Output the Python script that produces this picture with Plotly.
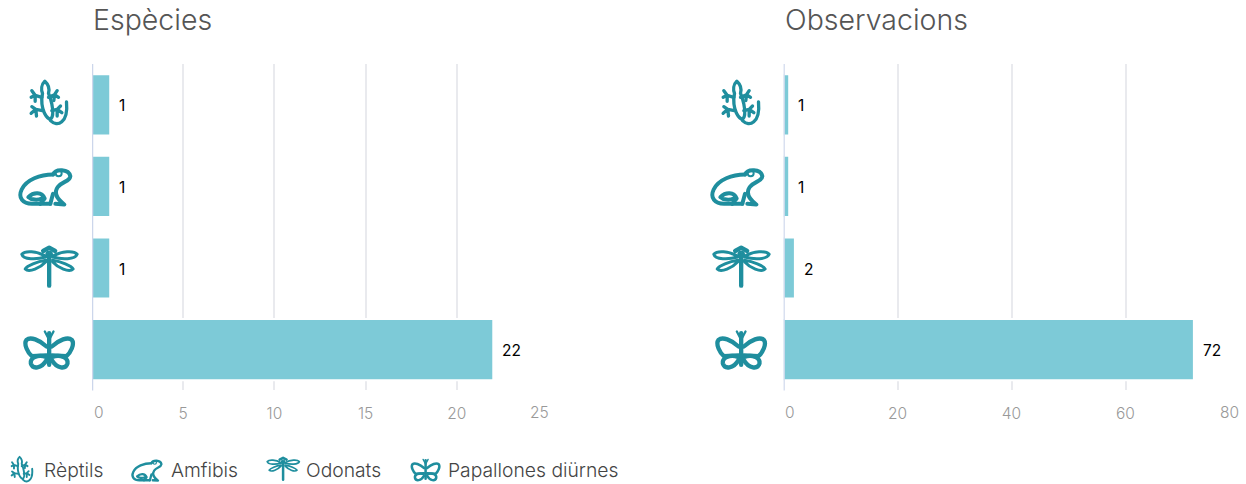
import base64
import plotly.graph_objects as go

# ---- data ----
categories = ["Rèptils", "Amfibis", "Odonats", "Papallones diürnes"]
especies = [1, 1, 1, 22]
observacions = [1, 1, 2, 72]
ticks_esp = [0, 5, 10, 15, 20, 25]
ticks_obs = [0, 20, 40, 60, 80]

BAR = "#7dcad7"
TEAL = "#1f8e9e"
W, H = 1246, 484
FONT = "Inter"


def svg(viewbox, body, sw):
    s = (f'<svg xmlns="http://www.w3.org/2000/svg" viewBox="{viewbox}" '
         f'width="{viewbox.split()[2]}" height="{viewbox.split()[3]}">'
         f'<g fill="none" stroke="{TEAL}" stroke-width="{sw}" stroke-linecap="round" '
         f'stroke-linejoin="round">{body}</g></svg>')
    return "data:image/svg+xml;base64," + base64.b64encode(s.encode()).decode()


# icon outlines, in 3x pixel units
ICONS = {
    "Rèptils": (svg("80 50 135 160",
        '<path d="M135,62 C124,72 124,88 128,98 C124,118 126,140 134,158 C140,170 148,176 152,176 '
        'C160,170 160,150 156,130 C152,112 148,104 146,98 C150,84 146,72 135,62 Z"/>'
        '<path d="M126,110 L106,104 M96,90 L106,104 L94,110 M106,104 L106,122"/>'
        '<path d="M146,110 L164,102 M172,90 L164,102 L176,110 M164,102 L162,120"/>'
        '<path d="M128,150 L108,146 M96,138 L108,146 L94,158 M108,146 L110,166"/>'
        '<path d="M156,150 L172,146 M182,136 L172,146 L186,156 M172,146 L172,166"/>'
        '<path d="M152,180 C172,200 206,188 200,124"/>', 10), 135, 160),
    "Amfibis": (svg("45 315 175 125",
        '<path d="M158,340 C120,340 78,355 64,385 C52,410 68,428 95,428 L150,428"/>'
        '<path d="M158,340 C165,322 205,322 210,345 C208,362 185,360 172,378 C160,395 168,412 192,430 L165,428"/>'
        '<circle cx="175" cy="336" r="9" stroke-width="6"/>'
        '<path d="M84,408 C100,392 125,392 133,412 L120,428 M84,408 C92,416 112,418 124,412"/>'
        '<path d="M150,428 L158,398"/>', 12), 175, 125),
    "Odonats": (svg("55 40 185 140",
        '<path d="M148,72 L148,166" stroke-width="13"/>'
        '<circle cx="148" cy="72" r="8" stroke-width="7"/>'
        '<path d="M130,62 L148,52 L166,62" stroke-width="13"/>'
        '<path d="M138,78 C110,62 76,60 66,72 C70,88 110,88 138,80"/>'
        '<path d="M158,78 C186,62 222,60 232,72 C226,88 186,88 158,80"/>'
        '<path d="M138,90 C112,94 82,106 76,116 C88,128 122,112 138,94"/>'
        '<path d="M158,90 C184,94 214,106 220,116 C208,128 174,112 158,94"/>', 9), 185, 140),
    "Papallones diürnes": (svg("60 285 175 135",
        '<path d="M148,305 L148,400" stroke-width="13"/>'
        '<path d="M135,300 L148,325 L161,300" stroke-width="7"/>'
        '<path d="M140,345 C118,325 92,315 80,325 C70,338 85,365 96,374 L140,372"/>'
        '<path d="M156,345 C178,325 204,315 216,325 C226,338 211,365 200,374 L156,372"/>'
        '<path d="M138,376 C112,368 90,380 93,396 C98,414 125,412 140,386"/>'
        '<path d="M158,376 C184,368 206,380 203,396 C198,414 171,412 156,386"/>', 13), 175, 135),
}

fig = go.Figure()

LEFT = (92, 548)
RIGHT = (783.5, 1239.5)
TOP, BOTTOM = 64, 390.4
TICK_FONT = dict(family=FONT, size=15.5, color="#999999", weight=300)
shapes = []


def add_panel(values, ticks, box, xname, yname, axis_no):
    fig.add_trace(go.Bar(
        y=categories, x=values, orientation="h", xaxis=xname, yaxis=yname,
        marker=dict(color=BAR, line=dict(color="white", width=2)),
        hoverinfo="y+x", showlegend=False, cliponaxis=False,
    ))
    suffix = "" if axis_no == 1 else str(axis_no)
    fig.layout["xaxis" + suffix] = dict(
        domain=[box[0] / W, box[1] / W], range=[ticks[0], ticks[-1]], anchor=yname,
        tickmode="array", tickvals=ticks,
        ticktext=[""] + [str(t) for t in ticks[1:-1]] + [""],
        ticks="outside", ticklen=9, tickcolor="rgba(0,0,0,0)",
        tickfont=TICK_FONT,
        showgrid=True, gridcolor="#e9eaee", gridwidth=1.5, zeroline=False, showline=False,
    )
    fig.layout["yaxis" + suffix] = dict(
        domain=[1 - BOTTOM / H, 1 - TOP / H], anchor=xname, type="category",
        categoryorder="array", categoryarray=categories, autorange="reversed",
        showticklabels=False, ticks="", showgrid=False, zeroline=False, showline=False,
    )
    # category axis line, half a pixel to the right of the zero position
    shapes.append(dict(type="line", layer="above", xref=xname, xsizemode="pixel", xanchor=0,
                       x0=0.5, x1=0.5, yref=yname + " domain", y0=0, y1=1,
                       line=dict(color="#ccd6eb", width=1.5)))
    ann = []
    # end tick labels sit inside the plot edges
    for t, shift in ((ticks[0], 6.5), (ticks[-1], -9 if ticks[-1] < 50 else -10.5)):
        ann.append(dict(x=t, y=1 - 412 / H, xref=xname, yref="paper", text=str(t), showarrow=False,
                        xshift=shift, xanchor="center", yanchor="middle", font=TICK_FONT))
    # value labels
    for c, v in zip(categories, values):
        ann.append(dict(x=v, y=c, xref=xname, yref=yname, text=str(v), showarrow=False,
                        xanchor="left", yanchor="middle", xshift=7, yshift=-1,
                        font=dict(family=FONT, size=15.5, color="#000000", weight=400)))
    return ann


annotations = []
annotations += add_panel(especies, ticks_esp, LEFT, "x", "y", 1)
annotations += add_panel(observacions, ticks_obs, RIGHT, "x2", "y2", 2)

for txt, xp in (("Espècies", 91), ("Observacions", 783)):
    annotations.append(dict(x=xp / W, y=1 - 20 / H, xref="paper", yref="paper", text=txt,
                            showarrow=False, xanchor="left", yanchor="middle",
                            font=dict(family=FONT, size=28.5, color="#555555", weight=300)))

images = []


def place(cat, cx, cy, scale):
    src, w, h = ICONS[cat]
    images.append(dict(source=src, xref="paper", yref="paper", x=cx / W, y=1 - cy / H,
                       sizex=w / 3 * scale / W, sizey=h / 3 * scale / H,
                       xanchor="center", yanchor="middle", sizing="stretch", layer="above"))


icon_cx = [49, 44.5, 49, 49]
icon_cy = [104, 187, 267, 349]
for cat, cx, cy in zip(categories, icon_cx, icon_cy):
    place(cat, cx, cy, 1)
    place(cat, cx + 692, cy, 1)

legend_icon_x = [22, 146.5, 283, 425.5]
legend_icon_y = [470, 470.5, 469, 469.5]
legend_text_x = [42, 169, 304, 446]
for cat, ix, iy, tx in zip(categories, legend_icon_x, legend_icon_y, legend_text_x):
    place(cat, ix, iy, 0.58)
    annotations.append(dict(x=tx / W, y=1 - 469.5 / H, xref="paper", yref="paper", text=cat,
                            showarrow=False, xanchor="left", yanchor="middle",
                            font=dict(family=FONT, size=19.3, color="#444444", weight=300)))

fig.update_layout(
    width=W, height=H, autosize=False, margin=dict(l=0, r=0, t=0, b=0),
    paper_bgcolor="white", plot_bgcolor="white", bargap=0.25,
    annotations=annotations, images=images, shapes=shapes, font=dict(family=FONT),
)

fig.write_html("out.html", post_script="document.body.style.margin='0';",
               config={"displayModeBar": False})
